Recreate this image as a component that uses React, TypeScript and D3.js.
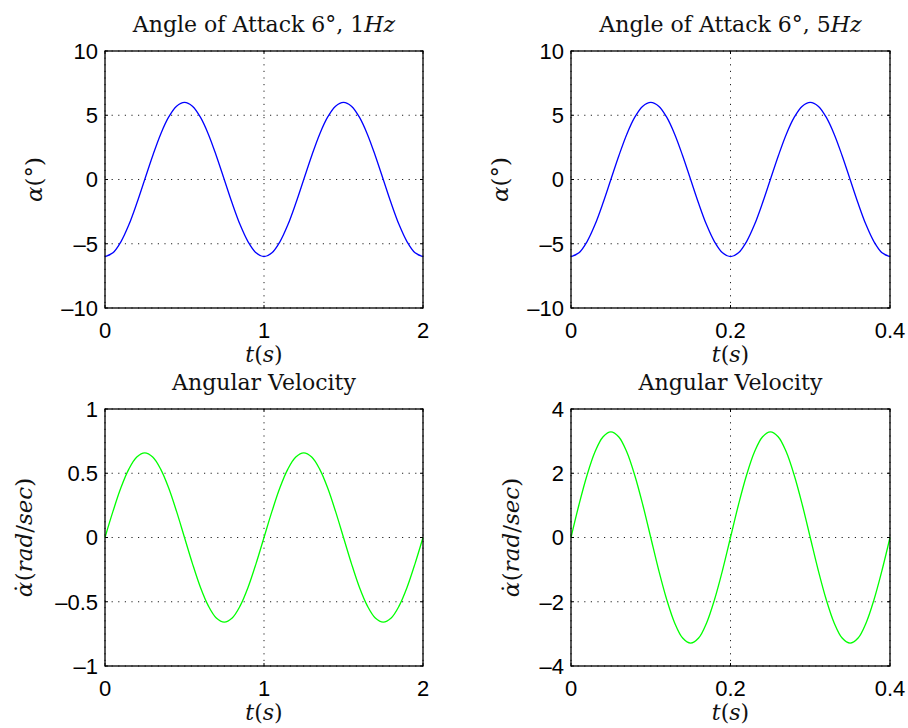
import React from "react";
import * as d3 from "d3";

// Sample times (s)
const time1Hz = [
  0, 0.05, 0.1, 0.15, 0.2, 0.25, 0.3, 0.35, 0.4, 0.45, 0.5, 0.55, 0.6, 0.65, 0.7, 0.75, 0.8, 0.85, 0.9, 0.95,
  1.0, 1.05, 1.1, 1.15, 1.2, 1.25, 1.3, 1.35, 1.4, 1.45, 1.5, 1.55, 1.6, 1.65, 1.7, 1.75, 1.8, 1.85, 1.9, 1.95, 2.0,
];
const time5Hz = [
  0, 0.01, 0.02, 0.03, 0.04, 0.05, 0.06, 0.07, 0.08, 0.09, 0.1, 0.11, 0.12, 0.13, 0.14, 0.15, 0.16, 0.17, 0.18, 0.19,
  0.2, 0.21, 0.22, 0.23, 0.24, 0.25, 0.26, 0.27, 0.28, 0.29, 0.3, 0.31, 0.32, 0.33, 0.34, 0.35, 0.36, 0.37, 0.38, 0.39, 0.4,
];

// Angle of attack (deg)
const alpha1Hz = [
  -6.0, -5.71, -4.85, -3.53, -1.85, 0.0, 1.85, 3.53, 4.85, 5.71, 6.0, 5.71, 4.85, 3.53, 1.85, 0.0, -1.85, -3.53, -4.85, -5.71,
  -6.0, -5.71, -4.85, -3.53, -1.85, 0.0, 1.85, 3.53, 4.85, 5.71, 6.0, 5.71, 4.85, 3.53, 1.85, 0.0, -1.85, -3.53, -4.85, -5.71, -6.0,
];
const alpha5Hz = [
  -6.0, -5.71, -4.85, -3.53, -1.85, 0.0, 1.85, 3.53, 4.85, 5.71, 6.0, 5.71, 4.85, 3.53, 1.85, 0.0, -1.85, -3.53, -4.85, -5.71,
  -6.0, -5.71, -4.85, -3.53, -1.85, 0.0, 1.85, 3.53, 4.85, 5.71, 6.0, 5.71, 4.85, 3.53, 1.85, 0.0, -1.85, -3.53, -4.85, -5.71, -6.0,
];

// Angular velocity (rad/sec)
const rate1Hz = [
  0, 0.203, 0.387, 0.532, 0.626, 0.658, 0.626, 0.532, 0.387, 0.203, 0, -0.203, -0.387, -0.532, -0.626, -0.658, -0.626, -0.532, -0.387, -0.203,
  0, 0.203, 0.387, 0.532, 0.626, 0.658, 0.626, 0.532, 0.387, 0.203, 0, -0.203, -0.387, -0.532, -0.626, -0.658, -0.626, -0.532, -0.387, -0.203, 0,
];
const rate5Hz = [
  0, 1.02, 1.93, 2.66, 3.13, 3.29, 3.13, 2.66, 1.93, 1.02, 0, -1.02, -1.93, -2.66, -3.13, -3.29, -3.13, -2.66, -1.93, -1.02,
  0, 1.02, 1.93, 2.66, 3.13, 3.29, 3.13, 2.66, 1.93, 1.02, 0, -1.02, -1.93, -2.66, -3.13, -3.29, -3.13, -2.66, -1.93, -1.02, 0,
];

// Tick labels
const xTicks1Hz = [0, 1, 2];
const xTicks5Hz = [0, 0.2, 0.4];
const yTicksAlpha = [-10, -5, 0, 5, 10];
const yTicksRate1 = [-1, -0.5, 0, 0.5, 1];
const yTicksRate5 = [-4, -2, 0, 2, 4];

const W = 908;
const H = 728;
const SANS = "'Liberation Sans', Arial, Helvetica, sans-serif";
const SERIF = "'DejaVu Serif', 'Liberation Serif', serif";

const fmt = (v: number) => (v < 0 ? "\u2013" + String(-v) : String(v));

type PanelProps = {
  left: number;
  top: number;
  width: number;
  height: number;
  xs: number[];
  ys: number[];
  xTicks: number[];
  yTicks: number[];
  color: string;
  title: React.ReactNode;
  ylabel: React.ReactNode;
  ylabelX: number;
};

function Panel(p: PanelProps) {
  const x = d3
    .scaleLinear()
    .domain([p.xTicks[0], p.xTicks[p.xTicks.length - 1]])
    .range([p.left, p.left + p.width]);
  const y = d3
    .scaleLinear()
    .domain([p.yTicks[0], p.yTicks[p.yTicks.length - 1]])
    .range([p.top + p.height, p.top]);
  const line = d3
    .line<number>()
    .x((_, i) => x(p.xs[i]))
    .y((d) => y(d))
    .curve(d3.curveCatmullRom.alpha(0.5));
  const cx = p.left + p.width / 2;
  const cy = p.top + p.height / 2;
  const dash = "1.2,5.4";
  return (
    <g>
      {/* grid */}
      {p.yTicks.map((t) => (
        <line key={"gy" + t} x1={p.left} x2={p.left + p.width} y1={y(t)} y2={y(t)} stroke="#222" strokeWidth={1} strokeDasharray={dash} />
      ))}
      {p.xTicks.map((t) => (
        <line key={"gx" + t} x1={x(t)} x2={x(t)} y1={p.top} y2={p.top + p.height} stroke="#222" strokeWidth={1} strokeDasharray={dash} />
      ))}
      {/* series */}
      <path d={line(p.ys) || ""} fill="none" stroke={p.color} strokeWidth={1.3} />
      {/* box */}
      <rect x={p.left} y={p.top} width={p.width} height={p.height} fill="none" stroke="#000" strokeWidth={1.3} />
      {/* ticks */}
      {p.yTicks.map((t) => (
        <g key={"ty" + t}>
          <line x1={p.left} x2={p.left + 3} y1={y(t)} y2={y(t)} stroke="#000" />
          <line x1={p.left + p.width} x2={p.left + p.width - 3} y1={y(t)} y2={y(t)} stroke="#000" />
          <text x={p.left - 7} y={y(t)} dy="0.36em" textAnchor="end" fontFamily={SANS} fontSize={22} fill="#000">
            {fmt(t)}
          </text>
        </g>
      ))}
      {p.xTicks.map((t) => (
        <g key={"tx" + t}>
          <line x1={x(t)} x2={x(t)} y1={p.top + p.height} y2={p.top + p.height - 3} stroke="#000" />
          <line x1={x(t)} x2={x(t)} y1={p.top} y2={p.top + 3} stroke="#000" />
          <text x={x(t)} y={p.top + p.height + 30} textAnchor="middle" fontFamily={SANS} fontSize={22} fill="#000">
            {fmt(t)}
          </text>
        </g>
      ))}
      {/* title */}
      <text x={cx} y={p.top - 19} textAnchor="middle" fontFamily={SERIF} fontSize={22} fill="#111">
        {p.title}
      </text>
      {/* x label */}
      <text x={cx} y={p.top + p.height + 54} textAnchor="middle" fontFamily={SERIF} fontSize={22} fill="#111">
        <tspan fontStyle="italic">t</tspan>
        <tspan>(</tspan>
        <tspan fontStyle="italic">s</tspan>
        <tspan>)</tspan>
      </text>
      {/* y label */}
      <text
        transform={`translate(${p.ylabelX},${cy}) rotate(-90)`}
        textAnchor="middle"
        dy="0.35em"
        fontFamily={SERIF}
        fontSize={23}
        fill="#111"
      >
        {p.ylabel}
      </text>
    </g>
  );
}

const alphaLabel = (
  <>
    <tspan fontStyle="italic">α</tspan>
    <tspan>(°)</tspan>
  </>
);
const rateLabel = (
  <>
    <tspan fontStyle="italic">α</tspan>
    <tspan dx="-0.55em">{"\u02D9"}</tspan>
    <tspan dx="0.07em">(</tspan>
    <tspan fontStyle="italic">rad</tspan>
    <tspan>/</tspan>
    <tspan fontStyle="italic">sec</tspan>
    <tspan>)</tspan>
  </>
);
const titleAoA = (hz: string) => (
  <>
    <tspan>{"Angle of Attack 6°, " + hz}</tspan>
    <tspan fontStyle="italic">Hz</tspan>
  </>
);

export default function App() {
  return (
    <svg width={W} height={H} style={{ position: "absolute", left: 0, top: 0, background: "#fff" }}>
      <rect width={W} height={H} fill="#fff" />
      <Panel left={105} top={51} width={318} height={257} xs={time1Hz} ys={alpha1Hz} xTicks={xTicks1Hz} yTicks={yTicksAlpha}
        color="#0000ff" title={titleAoA("1")} ylabel={alphaLabel} ylabelX={34} />
      <Panel left={571} top={51} width={319} height={257} xs={time5Hz} ys={alpha5Hz} xTicks={xTicks5Hz} yTicks={yTicksAlpha}
        color="#0000ff" title={titleAoA("5")} ylabel={alphaLabel} ylabelX={500} />
      <Panel left={105} top={409} width={318} height={257} xs={time1Hz} ys={rate1Hz} xTicks={xTicks1Hz} yTicks={yTicksRate1}
        color="#00ff00" title="Angular Velocity" ylabel={rateLabel} ylabelX={24} />
      <Panel left={571} top={409} width={319} height={257} xs={time5Hz} ys={rate5Hz} xTicks={xTicks5Hz} yTicks={yTicksRate5}
        color="#00ff00" title="Angular Velocity" ylabel={rateLabel} ylabelX={511} />
    </svg>
  );
}
